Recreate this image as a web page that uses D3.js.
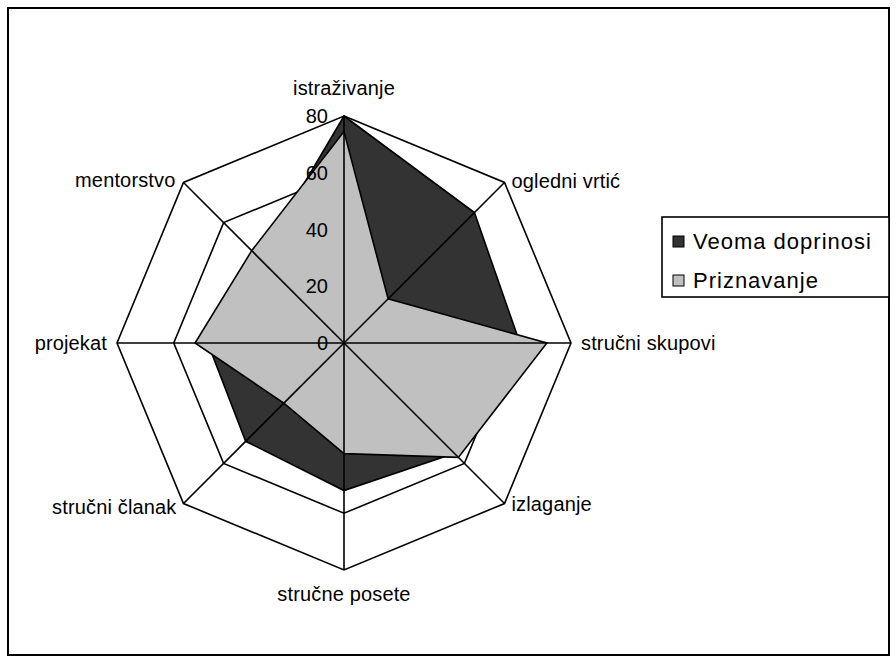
<!DOCTYPE html>
<html>
<head>
<meta charset="utf-8">
<script src="https://cdn.jsdelivr.net/npm/d3@7"></script>
<style>
  html, body { margin: 0; padding: 0; background: #fff; }
  svg { display: block; font-family: "Liberation Sans", Arial, sans-serif; }
</style>
</head>
<body>
<svg id="chart" width="896" height="663"></svg>
<script>
const categories = ["istraživanje", "ogledni vrtić", "stručni skupovi", "izlaganje",
                    "stručne posete", "stručni članak", "projekat", "mentorstvo"];
const seriesNames = ["Veoma doprinosi", "Priznavanje"];
const veomaDoprinosi = [80, 65, 62, 55, 52, 49, 48, 42];
const priznavanje = [74.5, 22, 71.5, 57, 39, 30, 52.5, 46];
const tickValues = [0, 20, 40, 60, 80];
const seriesColors = ["#333333", "#c0c0c0"];

const svg = d3.select("#chart");
const cx = 344, cy = 343, R = 227;
const n = categories.length;
const r = d3.scaleLinear().domain([0, 80]).range([0, R]);
const angle = d3.scaleLinear().domain([0, n]).range([0, 2 * Math.PI]);

function pt(i, v) {
  const a = angle(i);
  return [cx + r(v) * Math.sin(a), cy - r(v) * Math.cos(a)];
}

// outer chart border
svg.append("rect").attr("x", 8).attr("y", 8).attr("width", 881).attr("height", 647)
  .attr("fill", "#fff").attr("stroke", "#000").attr("stroke-width", 2);

const g = svg.append("g");
const line = d3.line().curve(d3.curveLinearClosed);

// grid rings
tickValues.filter(t => t > 0).forEach(t => {
  g.append("path")
    .attr("d", line(d3.range(n).map(i => pt(i, t))))
    .attr("fill", "none").attr("stroke", "#000").attr("stroke-width", 1.6);
});

// series
[veomaDoprinosi, priznavanje].forEach((vals, s) => {
  g.append("path")
    .attr("d", line(vals.map((v, i) => pt(i, v))))
    .attr("fill", seriesColors[s]).attr("stroke", "#000").attr("stroke-width", 1.6)
    .attr("stroke-linejoin", "miter");
});

// spokes
d3.range(n).forEach(i => {
  const [x, y] = pt(i, 80);
  g.append("line").attr("x1", cx).attr("y1", cy).attr("x2", x).attr("y2", y)
    .attr("stroke", "#000").attr("stroke-width", 1.6);
});

// tick labels
tickValues.forEach(t => {
  g.append("text").attr("x", cx - 16).attr("y", cy - r(t))
    .attr("text-anchor", "end").attr("dominant-baseline", "central")
    .attr("font-size", 20).attr("fill", "#000").text(t);
});

// category labels
const labelPos = [
  {dx: 0, dy: -28, anchor: "middle"},
  {dx: 7, dy: -1, anchor: "start"},
  {dx: 10, dy: 0, anchor: "start"},
  {dx: 7, dy: 0, anchor: "start"},
  {dx: 0, dy: 24, anchor: "middle"},
  {dx: -7, dy: 3, anchor: "end"},
  {dx: -10, dy: 0, anchor: "end"},
  {dx: -8, dy: -2, anchor: "end"}
];
categories.forEach((c, i) => {
  const [x, y] = pt(i, 80);
  const p = labelPos[i];
  g.append("text").attr("x", x + p.dx).attr("y", y + p.dy)
    .attr("text-anchor", p.anchor).attr("dominant-baseline", "central")
    .attr("font-size", 20).attr("letter-spacing", 0.15).attr("fill", "#000").text(c);
});

// legend
const leg = svg.append("g");
leg.append("rect").attr("x", 662).attr("y", 217).attr("width", 227).attr("height", 80)
  .attr("fill", "#fff").attr("stroke", "#000").attr("stroke-width", 1.6);
seriesNames.forEach((name, s) => {
  const y0 = 241 + s * 39;
  leg.append("rect").attr("x", 673).attr("y", y0 - 5).attr("width", 11).attr("height", 11)
    .attr("fill", seriesColors[s]).attr("stroke", "#000").attr("stroke-width", 1);
  leg.append("text").attr("x", 693).attr("y", y0)
    .attr("dominant-baseline", "central").attr("font-size", 22)
    .attr("letter-spacing", 1).attr("fill", "#000").text(name);
});
</script>
</body>
</html>
